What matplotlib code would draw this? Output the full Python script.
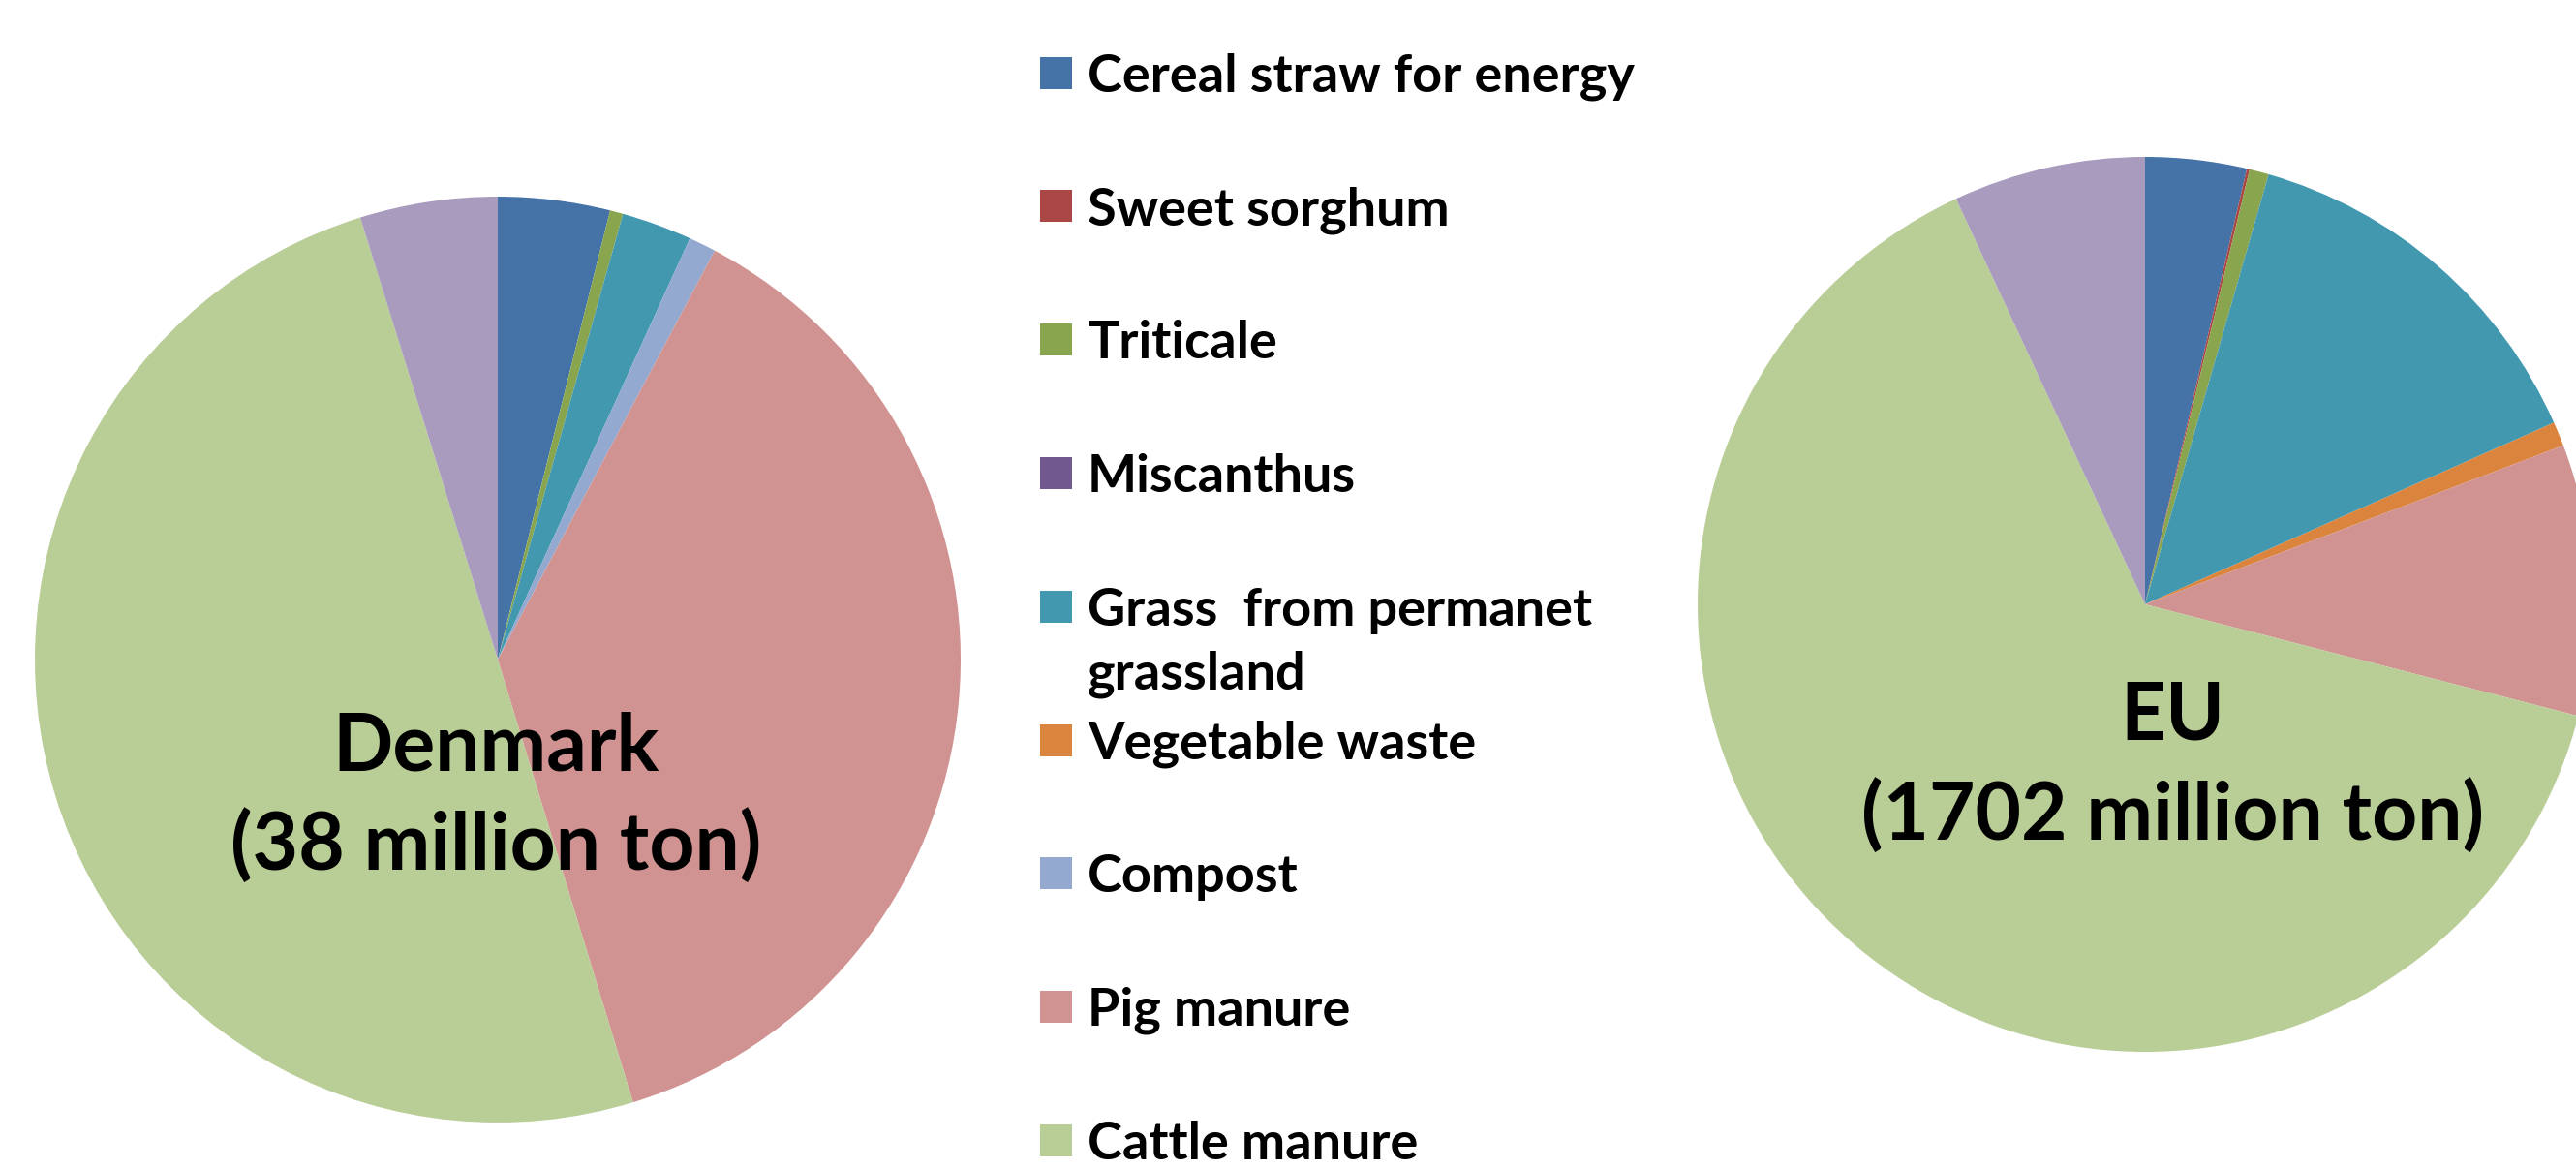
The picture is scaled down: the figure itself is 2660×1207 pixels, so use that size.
import matplotlib
matplotlib.use("Agg")
import matplotlib.pyplot as plt
from matplotlib.patches import Rectangle

# ---------------- data ----------------
categories = ["Cereal straw for energy", "Sweet sorghum", "Triticale", "Miscanthus",
              "Grass  from permanet\ngrassland", "Vegetable waste", "Compost",
              "Pig manure", "Cattle manure", "Other"]
denmark_share = [3.9, 0.0, 0.46, 0.0, 2.45, 0.0, 0.95, 37.5, 49.9, 4.8]   # % of 38 Mt
eu_share = [3.66, 0.1, 0.7, 0.0, 13.9, 0.88, 0.0, 9.8, 64.1, 6.95]        # % of 1702 Mt
colors = ["#4572A7", "#AA4643", "#89A54E", "#71588F", "#4198AF",
          "#DB843D", "#93A9CF", "#D19392", "#B9CD96", "#A99BBD"]
dk_title = ["Denmark", "(38 million ton)"]
eu_title = ["EU", "(1702 million ton)"]

FONT = ["Lato", "DejaVu Sans"]
W, H = 2660, 1207
DPI = 100
fig = plt.figure(figsize=(W / DPI, H / DPI), dpi=DPI)
fig.patch.set_facecolor("white")
renderer = fig.canvas.get_renderer()


def px_axes(cx, cy, r):
    return fig.add_axes([(cx - r) / W, 1 - (cy + r) / H, 2 * r / W, 2 * r / H])


def fit_size(text, target_px, base=40):
    t = fig.text(0, 0, text, fontsize=base, fontweight="bold", family=FONT)
    w = t.get_window_extent(renderer).width
    t.remove()
    return base * target_px / w


def pie(ax, values):
    ax.pie(values, colors=colors, startangle=90, counterclock=False, radius=1,
           wedgeprops=dict(linewidth=0, edgecolor="none"))
    ax.set_xlim(-1, 1)
    ax.set_ylim(-1, 1)
    ax.axis("off")


ax1 = px_axes(514, 681, 478)
pie(ax1, denmark_share)
ax2 = px_axes(2215, 624, 462)
pie(ax2, eu_share)

# ---------------- titles inside pies ----------------
title_size = fit_size(dk_title[1], 548)
for line, base in zip(dk_title, [795, 898]):
    fig.text(512 / W, 1 - base / H, line, fontsize=title_size, fontweight="bold",
             family=FONT, ha="center", va="baseline", color="black")
for line, base in zip(eu_title, [763, 867]):
    fig.text(2243 / W, 1 - base / H, line, fontsize=title_size, fontweight="bold",
             family=FONT, ha="center", va="baseline", color="black")

# ---------------- legend ----------------
leg_size = fit_size(categories[0], 565)
cap = 0.7165 * leg_size * DPI / 72.0
y0, step, sq = 75, 137.8, 33
for i, (lab, col) in enumerate(zip(categories, colors)):
    yc = y0 + i * step
    fig.patches.append(Rectangle((1074 / W, 1 - (yc + sq / 2) / H), sq / W, sq / H,
                                 transform=fig.transFigure, facecolor=col,
                                 edgecolor="none", figure=fig))
    for k, line in enumerate(lab.split("\n")):
        fig.text(1123 / W, 1 - (yc + cap / 2 + k * 66) / H, line, fontsize=leg_size,
                 fontweight="bold", family=FONT, ha="left", va="baseline", color="black")

fig.savefig("out.png", dpi=DPI, facecolor="white")
